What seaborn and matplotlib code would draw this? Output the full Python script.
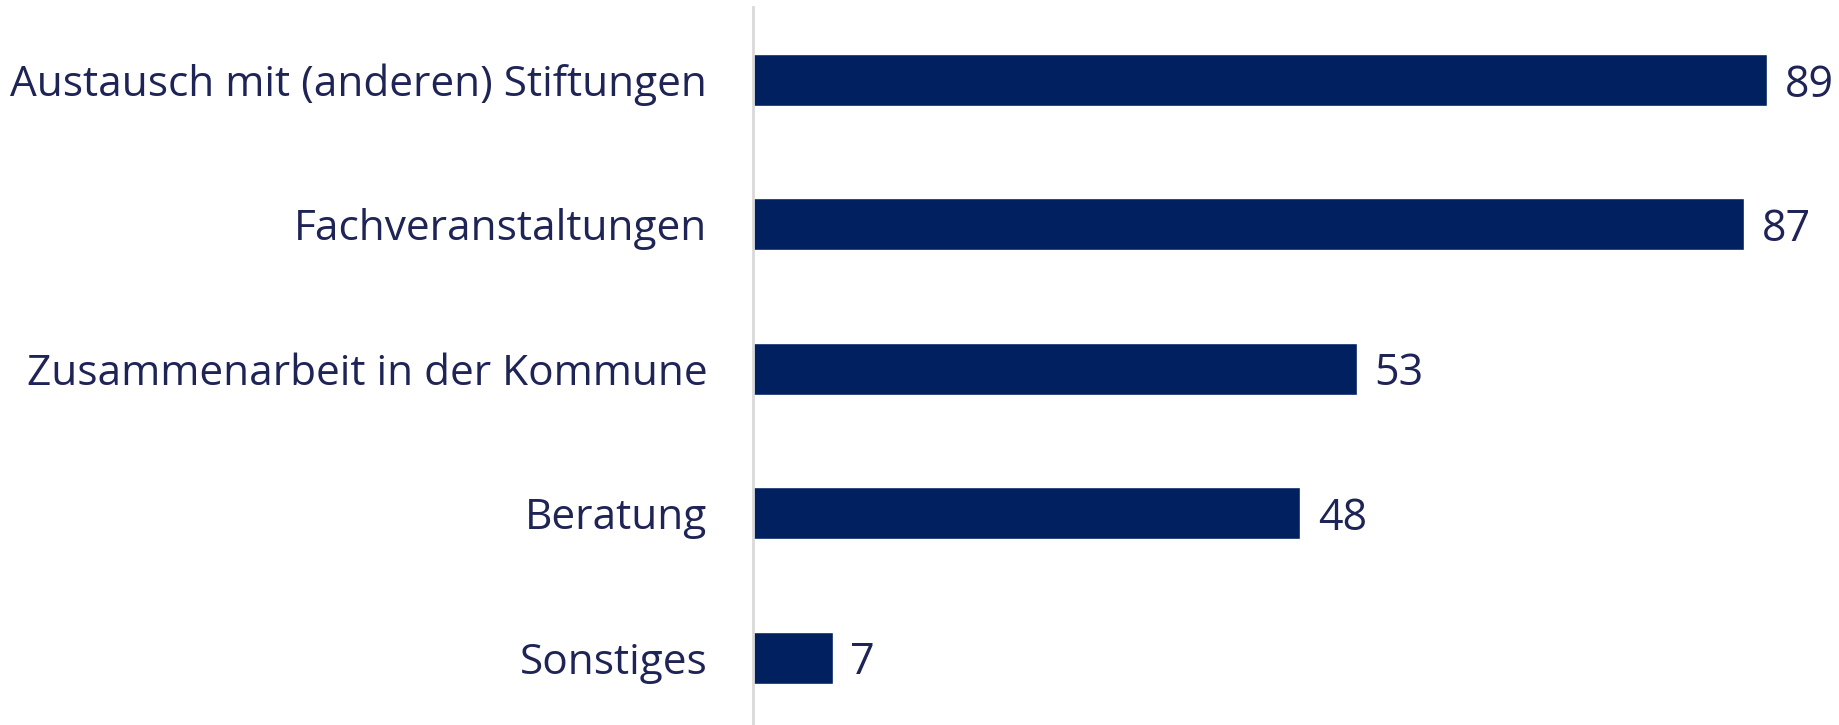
import pandas as pd
import matplotlib.pyplot as plt
import seaborn as sns

# Chart data
categories = ['Austausch mit (anderen) Stiftungen', 'Fachveranstaltungen',
              'Zusammenarbeit in der Kommune', 'Beratung', 'Sonstiges']
values = [89, 87, 53, 48, 7]

bar_color = '#002060'
text_color = '#1f2456'

sns.set_theme(style='white')
plt.rcParams['font.family'] = ['Open Sans', 'DejaVu Sans']

df = pd.DataFrame({'category': categories, 'value': values})

fig = plt.figure(figsize=(18.39, 7.25), dpi=100)
ax = fig.add_axes([753 / 1839, 0.0, 1 - 753 / 1839, 718 / 725])

sns.barplot(data=df, x='value', y='category', color=bar_color, width=0.36,
            saturation=1, ax=ax)

ax.set_xlim(0, 95.3)
ax.set_ylim(4.467, -0.505)

# Value labels next to each bar
for i, v in enumerate(values):
    ax.text(v + 1.55, i, str(v), va='center_baseline', ha='left', fontsize=31,
            color=text_color)

ax.set_xlabel('')
ax.set_ylabel('')
ax.set_xticks([])
ax.tick_params(axis='y', length=0, pad=33, labelsize=30.5, labelcolor=text_color)

for side in ['top', 'right', 'bottom']:
    ax.spines[side].set_visible(False)
ax.spines['left'].set_color('#d9d9d9')
ax.spines['left'].set_linewidth(2)

fig.savefig('out.png', dpi=100, facecolor='white')
